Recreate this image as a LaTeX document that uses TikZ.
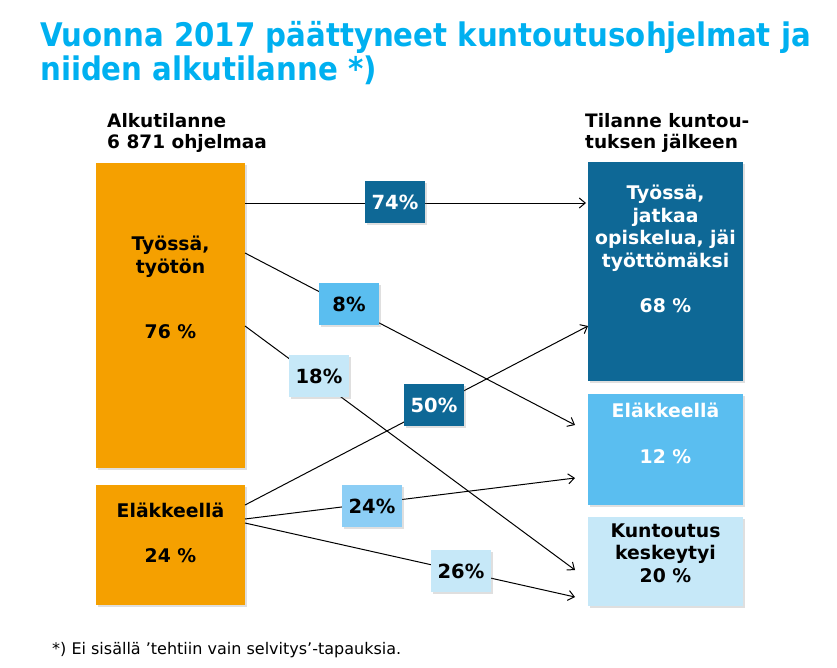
\documentclass[tikz,border=0pt]{standalone}
\usepackage{fontspec}
\setmainfont{DejaVu Sans}
\newfontfamily\titlefont{DejaVu Sans Condensed}
\usetikzlibrary{arrows.meta,shadows}
\definecolor{orng}{RGB}{245,160,0}
\definecolor{dblue}{RGB}{14,104,150}
\definecolor{mblue}{RGB}{90,190,240}
\definecolor{pblue}{RGB}{140,206,245}
\definecolor{lblue}{RGB}{198,232,248}
\definecolor{ttl}{RGB}{0,176,240}
\tikzset{
  box/.style={draw=none, inner sep=0pt, drop shadow={shadow xshift=1.5pt, shadow yshift=-1.5pt, opacity=0.25}},
  pct/.style={draw=none, minimum width=60pt, minimum height=42pt, inner sep=0pt,
    font=\fontsize{19.5}{22}\selectfont\bfseries,
    drop shadow={shadow xshift=1.5pt, shadow yshift=-1.5pt, opacity=0.25}},
  btxt/.style={align=center, anchor=base, font=\fontsize{18.8}{22.5}\selectfont\bfseries, inner sep=0pt},
  flow/.style={draw=black, line width=1pt, -{Straight Barb[length=6pt,width=10pt]}},
  head/.style={align=left, anchor=base west, font=\fontsize{18.5}{21}\selectfont\bfseries, inner sep=0pt},
  ttext/.style={anchor=base west, inner sep=0pt, text=ttl, font=\titlefont\fontsize{32.5}{36}\selectfont\bfseries}
}
\begin{document}
\begin{tikzpicture}[x=1pt,y=-1pt]
\useasboundingbox (0,0) rectangle (837,667);
% title
\node[ttext] (t1) at (40,46) {Vuonna 2017 päättyneet kuntoutusohjelmat ja};
\node[ttext] (t2) at (40,80) {niiden alkutilanne *)};
% headers (base = last line)
\node[head] (h1) at (107,148) {Alkutilanne\\6 871 ohjelmaa};
\node[head] (h2) at (585,148) {Tilanne kuntou-\\tuksen jälkeen};
% left boxes
\path[box, fill=orng] (96,163) rectangle (245,468);
\path[box, fill=orng] (96,485) rectangle (245,605);
% right boxes
\path[box, fill=dblue] (588,162) rectangle (743,381);
\path[box, fill=mblue] (588,394) rectangle (743,505);
\path[box, fill=lblue] (588,517) rectangle (743,606);
% box texts (base = last line baseline)
\node[btxt] (lt1) at (170.5,273) {Työssä,\\työtön};
\node[btxt] (lt2) at (170.5,338) {76 \%};
\node[btxt] (lb1) at (170.5,517) {Eläkkeellä};
\node[btxt] (lb2) at (170.5,562) {24 \%};
\node[btxt, text=white] (rt1) at (665.5,267) {Työssä,\\jatkaa\\opiskelua, jäi\\työttömäksi};
\node[btxt, text=white] (rt2) at (665.5,312) {68 \%};
\node[btxt, text=white] (rm1) at (665.5,417) {Eläkkeellä};
\node[btxt, text=white] (rm2) at (665.5,463) {12 \%};
\node[btxt] (rb1) at (665.5,582) {Kuntoutus\\keskeytyi\\20 \%};
% connector end points
\coordinate (s1) at (245,203);
\coordinate (e1) at (586,203);
\coordinate (s2) at (245,253);
\coordinate (e2) at (575,425);
\coordinate (s3) at (245,326);
\coordinate (e3) at (575,570);
\coordinate (s4) at (245,505);
\coordinate (e4) at (588,326);
\coordinate (s5) at (245,519);
\coordinate (e5) at (575,478);
\coordinate (s6) at (245,523);
\coordinate (e6) at (575,597);
% connectors
\draw[flow] (s1) -- (e1);
\draw[flow] (s2) -- (e2);
\draw[flow] (s3) -- (e3);
\draw[flow] (s4) -- (e4);
\draw[flow] (s5) -- (e5);
\draw[flow] (s6) -- (e6);
% percentage labels
\node[pct, fill=dblue, text=white] (p1) at (395,202) {74\%};
\node[pct, fill=mblue] (p2) at (349,304) {8\%};
\node[pct, fill=lblue] (p3) at (319,376) {18\%};
\node[pct, fill=dblue, text=white] (p4) at (434,405) {50\%};
\node[pct, fill=pblue] (p5) at (372,506) {24\%};
\node[pct, fill=lblue] (p6) at (461,571) {26\%};
% footnote
\node[anchor=base west, inner sep=0pt, font=\fontsize{16}{18}\selectfont] (fn) at (52,654) {*) Ei sisällä ’tehtiin vain selvitys’-tapauksia.};
\end{tikzpicture}
\end{document}
